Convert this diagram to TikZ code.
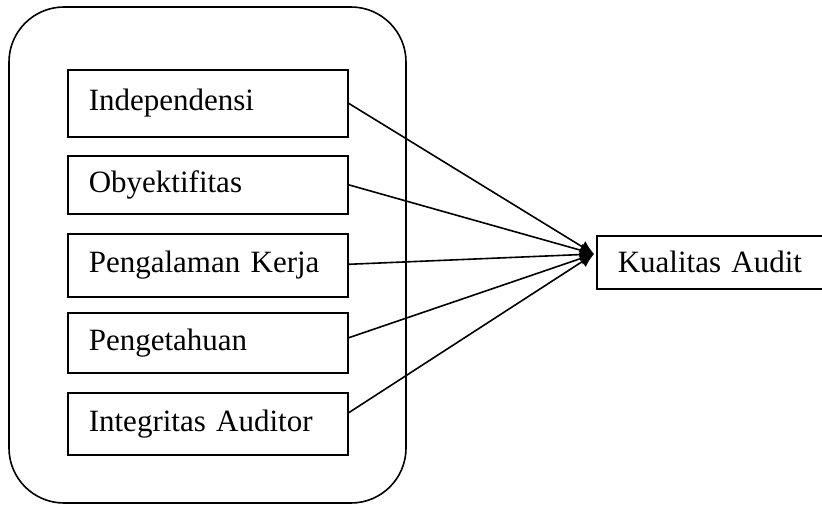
\documentclass[tikz,border=0pt]{standalone}
\usepackage{fontspec}
\setmainfont{Liberation Serif}
\usetikzlibrary{arrows.meta}
\begin{document}
\begin{tikzpicture}[x=1pt,y=-1pt,
  line/.style={line width=1.6pt},
  varbox/.style={draw,line width=1.6pt,anchor=north west,minimum width=280pt,
    text width=238pt,align=left,inner xsep=21pt,inner ysep=0pt,
    font=\fontsize{31}{36}\selectfont},
  link/.style={line width=1.6pt,-{Latex[length=14pt,width=13pt]}}]
\useasboundingbox (0,0) rectangle (822,505);
\draw[line,rounded corners=55pt] (9,7) rectangle (406,503);
\node[varbox,minimum height=67pt] (b1) at (67,69) {Independensi};
\node[varbox,minimum height=58pt] (b2) at (67,155) {Obyektifitas};
\node[varbox,minimum height=63pt] (b3) at (67,233) {Pengalaman Kerja};
\node[varbox,minimum height=60pt] (b4) at (67,312) {Pengetahuan};
\node[varbox,minimum height=62pt] (b5) at (67,392) {Integritas Auditor};
\node[draw,line width=1.6pt,anchor=north west,minimum width=225pt,minimum height=53pt,
  text width=184pt,align=left,inner xsep=21pt,inner ysep=0pt,
  font=\fontsize{31}{36}\selectfont] (ka) at (596,235) {\mbox{Kualitas Audit}};
\coordinate (tip) at (594,254);
\draw[link] (b1.east) -- (tip);
\draw[link] (b2.east) -- (tip);
\draw[link] ([yshift=1pt]b3.east) -- (tip);
\draw[link] ([yshift=5pt]b4.east) -- (tip);
\draw[link] ([yshift=11pt]b5.east) -- (tip);
\end{tikzpicture}
\end{document}
